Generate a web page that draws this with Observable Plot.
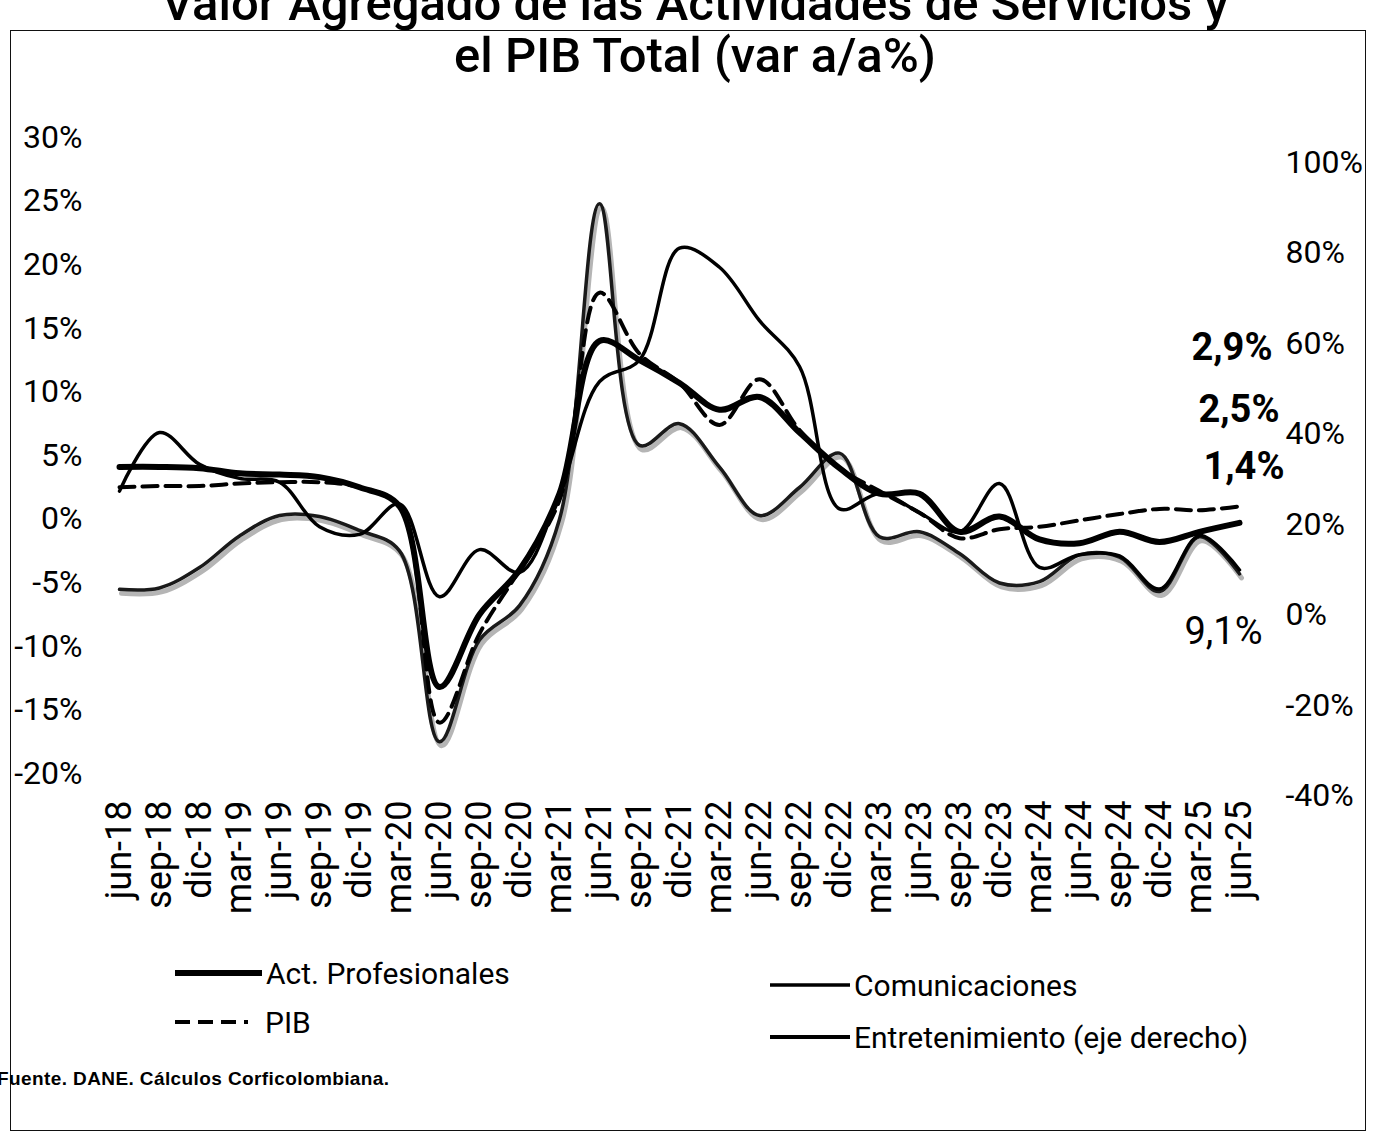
<!DOCTYPE html>
<html>
<head>
<meta charset="utf-8">
<script src="https://cdn.jsdelivr.net/npm/d3@7"></script>
<script src="https://cdn.jsdelivr.net/npm/@observablehq/plot@0.6"></script>
<style>
html, body { margin: 0; padding: 0; background: #fff; }
body { width: 1382px; height: 1142px; position: relative; overflow: hidden; font-family: Roboto, "Liberation Sans", sans-serif; color: #000; }
#frame { position: absolute; left: 10px; top: 30px; width: 1356px; height: 1101px; border: 1.5px solid #111; box-sizing: border-box; }
.title { position: absolute; left: 4px; width: 1382px; text-align: center; font-size: 49px; font-weight: 500; line-height: 49px; white-space: nowrap; }
#chart { position: absolute; left: 0; top: 0; }
#legend { position: absolute; left: 0; top: 0; }
#source { position: absolute; left: -3px; top: 1068px; font-family: "Liberation Sans", Arial, sans-serif; font-size: 19px; letter-spacing: 0.4px; font-weight: bold; white-space: nowrap; }
</style>
</head>
<body>
<div id="frame"></div>
<div class="title" style="top:-21px">Valor Agregado de las Actividades de Servicios y</div>
<div class="title" style="top:31px">el PIB Total (var a/a%)</div>
<div id="chart"></div>
<svg id="legend" width="1382" height="1142"></svg>
<div id="source">Fuente. DANE. Cálculos Corficolombiana.</div>
<script>
// Quarter labels
const quarters = ["jun-18","sep-18","dic-18","mar-19","jun-19","sep-19","dic-19","mar-20","jun-20","sep-20","dic-20","mar-21","jun-21","sep-21","dic-21","mar-22","jun-22","sep-22","dic-22","mar-23","jun-23","sep-23","dic-23","mar-24","jun-24","sep-24","dic-24","mar-25","jun-25"];

// Left axis series (var a/a %)
const actProfesionales = [4.1,4.1,4.0,3.6,3.5,3.3,2.5,1.0,-13.2,-7.5,-4.0,2.0,14.0,12.5,10.7,8.6,9.6,6.8,4.0,2.0,2.0,-1.0,0.2,-1.6,-1.9,-1.0,-1.8,-1.0,-0.3];
const pib = [2.5,2.6,2.6,2.8,2.9,2.9,2.5,1.0,-16.0,-9.0,-4.0,1.5,17.8,13.0,10.7,7.4,11.0,7.0,4.0,2.2,0.5,-1.5,-0.8,-0.6,-0.1,0.4,0.8,0.7,1.0];
const comunicaciones = [2.2,6.8,4.3,3.2,2.9,-0.6,-1.2,1.2,-6.1,-2.4,-4.2,2.0,10.8,12.5,21.3,19.8,15.6,12.0,0.8,2.0,0.5,-1.0,2.8,-3.8,-2.8,-2.9,-5.5,-1.3,-4.0];

// Right axis series (var a/a %)
const entretenimiento = [5.7,6.0,10.5,17.5,22.0,21.8,18.7,14.2,-28.0,-5.5,2.1,21.2,90.9,37.5,42.3,32.7,22.0,28.2,35.8,17.3,18.4,13.6,7.1,7.4,13.3,12.8,5.2,17.3,9.1];

// Axis ticks
const leftTicks = [-20,-15,-10,-5,0,5,10,15,20,25,30];
const rightTicks = [-40,-20,0,20,40,60,80,100];

// End-of-series value labels
const endLabelTexts = ["2,9%","2,5%","1,4%","9,1%"];

// Right axis (−40%…100%) mapped onto the left axis (−20%…30%)
const toLeft = r => (4.525 * r - 96) / 12.72;
const toRight = l => (12.72 * l + 96) / 4.525;

const xq = (d, i) => quarters[i];
const lastQ = () => quarters[quarters.length - 1];

const chart = Plot.plot({
  width: 1382,
  height: 940,
  marginLeft: 112,
  marginRight: 137,
  marginTop: 137,
  marginBottom: 167,
  style: { fontFamily: "Roboto, sans-serif", background: "transparent", overflow: "visible", color: "#000" },
  x: { type: "point", domain: quarters, padding: 0 },
  y: { domain: [-20, 30] },
  marks: [
    Plot.axisX({ tickRotate: -90, tickSize: 0, tickPadding: 27, fontSize: 36, label: null }),
    Plot.axisY({ anchor: "left", ticks: leftTicks, tickFormat: d => `${d}%`, tickSize: 0, tickPadding: 30, fontSize: 32, label: null }),
    Plot.axisY({ anchor: "right", ticks: rightTicks.map(toLeft), tickFormat: d => `${Math.round(toRight(d) / 20) * 20}%`, tickSize: 0, tickPadding: 40, fontSize: 32, label: null }),
    // Entretenimiento (right axis): gray halo + dark line
    Plot.line(entretenimiento, { x: xq, y: d => toLeft(d), curve: "catmull-rom", stroke: "#b5b5b5", strokeWidth: 5, dx: 2, dy: 4 }),
    Plot.line(entretenimiento, { x: xq, y: d => toLeft(d), curve: "catmull-rom", stroke: "#1a1a1a", strokeWidth: 3.5 }),
    // Comunicaciones
    Plot.line(comunicaciones, { x: xq, y: d => d, curve: "catmull-rom", stroke: "#000", strokeWidth: 3.5 }),
    // PIB dashed
    Plot.line(pib, { x: xq, y: d => d, curve: "catmull-rom", stroke: "#000", strokeWidth: 4, strokeDasharray: "15,8" }),
    // Act. Profesionales thick
    Plot.line(actProfesionales, { x: xq, y: d => d, curve: "catmull-rom", stroke: "#000", strokeWidth: 6 }),
    // End labels
    Plot.text([endLabelTexts[0]], { x: lastQ, y: () => 13.5, text: d => d, dx: 33, textAnchor: "end", fontSize: 38, fontWeight: "bold", fill: "#000" }),
    Plot.text([endLabelTexts[1]], { x: lastQ, y: () => 8.6, text: d => d, dx: 40, textAnchor: "end", fontSize: 38, fontWeight: "bold", fill: "#000" }),
    Plot.text([endLabelTexts[2]], { x: lastQ, y: () => 4.1, text: d => d, dx: 45, textAnchor: "end", fontSize: 38, fontWeight: "bold", fill: "#000" }),
    Plot.text([endLabelTexts[3]], { x: lastQ, y: () => -8.9, text: d => d, dx: 23, textAnchor: "end", fontSize: 38, fill: "#000" })
  ]
});
document.getElementById("chart").appendChild(chart);

// Legend
const leg = d3.select("#legend");
const legendItems = [
  { name: "Act. Profesionales", x1: 175, x2: 262, y: 973, w: 6, dash: null },
  { name: "PIB", x1: 175, x2: 248, y: 1022, w: 4, dash: "15,8" },
  { name: "Comunicaciones", x1: 770, x2: 850, y: 985, w: 3.5, dash: null },
  { name: "Entretenimiento (eje derecho)", x1: 770, x2: 850, y: 1037, w: 4, dash: null }
];
legendItems.forEach(it => {
  leg.append("line").attr("x1", it.x1).attr("x2", it.x2).attr("y1", it.y).attr("y2", it.y)
    .attr("stroke", "#000").attr("stroke-width", it.w).attr("stroke-dasharray", it.dash);
  leg.append("text").attr("x", it.x2 + (it.name === "PIB" ? 17 : 4)).attr("y", it.y).attr("dy", "0.35em")
    .attr("font-family", "Roboto, sans-serif").attr("font-size", 30).text(it.name);
});
</script>
</body>
</html>
